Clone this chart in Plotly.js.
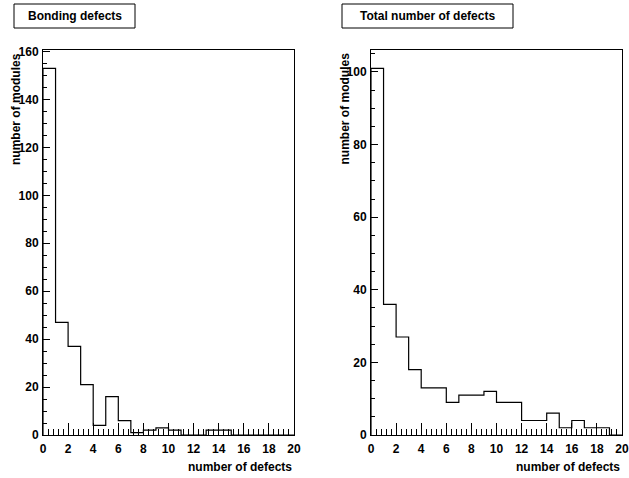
<!DOCTYPE html>
<html>
<head>
<meta charset="utf-8">
<script src="https://cdn.plot.ly/plotly-3.0.1.min.js"></script>
<style>html,body{margin:0;padding:0;background:#fff;}#chart{width:629px;height:478px;}</style>
</head>
<body>
<div id="chart"></div>
<script>
// Bin lower edges (number of defects), unit-width bins from 0 to 20
var binEdges = [0,1,2,3,4,5,6,7,8,9,10,11,12,13,14,15,16,17,18,19,20];
// Counts per bin
var bondingCounts = [153,47,37,21,4,16,6,1,2,3,2,0,0,2,2,0,0,0,0,0];
var totalCounts   = [101,36,27,18,13,13,9,11,11,12,9,9,4,4,6,2,4,2,2,0];
var panelTitles = ["Bonding defects", "Total number of defects"];
var xTitle = "number of defects";
var yTitle = "number of modules";

function stepPath(edges, counts) {
  var xs = [edges[0]], ys = [0];
  for (var i = 0; i < counts.length; i++) { xs.push(edges[i]); ys.push(counts[i]); }
  xs.push(edges[edges.length - 1]); ys.push(0);
  return {x: xs, y: ys};
}
var p1 = stepPath(binEdges, bondingCounts);
var p2 = stepPath(binEdges, totalCounts);

var W = 629, H = 478;
function px(x){return x / W;}
function py(y){return 1 - y / H;}

var font = {family: "Liberation Sans, Arial, sans-serif", size: 12, color: "#000", weight: 700};

var traces = [
  {x: p1.x, y: p1.y, type: "scatter", mode: "lines", line: {shape: "hv", color: "#000", width: 1.2}, xaxis: "x", yaxis: "y", hoverinfo: "skip", showlegend: false},
  {x: p2.x, y: p2.y, type: "scatter", mode: "lines", line: {shape: "hv", color: "#000", width: 1.2}, xaxis: "x2", yaxis: "y2", hoverinfo: "skip", showlegend: false}
];

function xax(domain) {
  return {domain: domain, range: [0, 20], dtick: 2, tick0: 0, ticks: "inside", ticklen: 12, tickwidth: 1, tickcolor: "#000",
    minor: {dtick: 0.4, tick0: 0, ticks: "inside", ticklen: 6, tickwidth: 1, tickcolor: "#000"},
    showline: true, mirror: true, linecolor: "#000", linewidth: 1, showgrid: false, zeroline: false,
    ticklabelstandoff: 3,
    tickfont: font, fixedrange: true};
}
function yax(domain, max, anchor) {
  return {domain: domain, range: [0, max], dtick: 20, tick0: 0, ticks: "inside", ticklen: 7, tickwidth: 1, tickcolor: "#000",
    minor: {dtick: 5, tick0: 0, ticks: "inside", ticklen: 4, tickwidth: 1, tickcolor: "#000"},
    showline: true, mirror: true, linecolor: "#000", linewidth: 1, showgrid: false, zeroline: false,
    ticklabelstandoff: 1,
    tickfont: font, anchor: anchor, fixedrange: true};
}

var yDom = [py(435), py(50)];
var layout = {
  width: W, height: H,
  margin: {l: 0, r: 0, t: 0, b: 0},
  paper_bgcolor: "#fff", plot_bgcolor: "#fff",
  showlegend: false,
  xaxis: Object.assign(xax([px(43), px(294)]), {anchor: "y"}),
  yaxis: yax(yDom, Math.max.apply(null, bondingCounts) * 1.05, "x"),
  xaxis2: Object.assign(xax([px(371), px(622)]), {anchor: "y2"}),
  yaxis2: yax(yDom, Math.max.apply(null, totalCounts) * 1.05, "x2"),
  shapes: [
    {type: "rect", xref: "paper", yref: "paper", x0: px(14), x1: px(135), y0: py(28), y1: py(4), line: {color: "#000", width: 1}, fillcolor: "#fff"},
    {type: "rect", xref: "paper", yref: "paper", x0: px(342), x1: px(513), y0: py(28), y1: py(4), line: {color: "#000", width: 1}, fillcolor: "#fff"}
  ],
  annotations: [
    {text: panelTitles[0], xref: "paper", yref: "paper", x: px(74.5), y: py(16), xanchor: "center", yanchor: "middle", showarrow: false, font: font},
    {text: panelTitles[1], xref: "paper", yref: "paper", x: px(427.5), y: py(16), xanchor: "center", yanchor: "middle", showarrow: false, font: font},
    {text: xTitle, xref: "paper", yref: "paper", x: px(294), y: py(467), xanchor: "right", yanchor: "middle", showarrow: false, font: font},
    {text: xTitle, xref: "paper", yref: "paper", x: px(622), y: py(467), xanchor: "right", yanchor: "middle", showarrow: false, font: font},
    {text: yTitle, xref: "paper", yref: "paper", x: px(16), y: py(51), xanchor: "center", yanchor: "top", textangle: -90, showarrow: false, font: font},
    {text: yTitle, xref: "paper", yref: "paper", x: px(344.5), y: py(51), xanchor: "center", yanchor: "top", textangle: -90, showarrow: false, font: font}
  ]
};

Plotly.newPlot("chart", traces, layout, {staticPlot: true, displayModeBar: false});
</script>
</body>
</html>
